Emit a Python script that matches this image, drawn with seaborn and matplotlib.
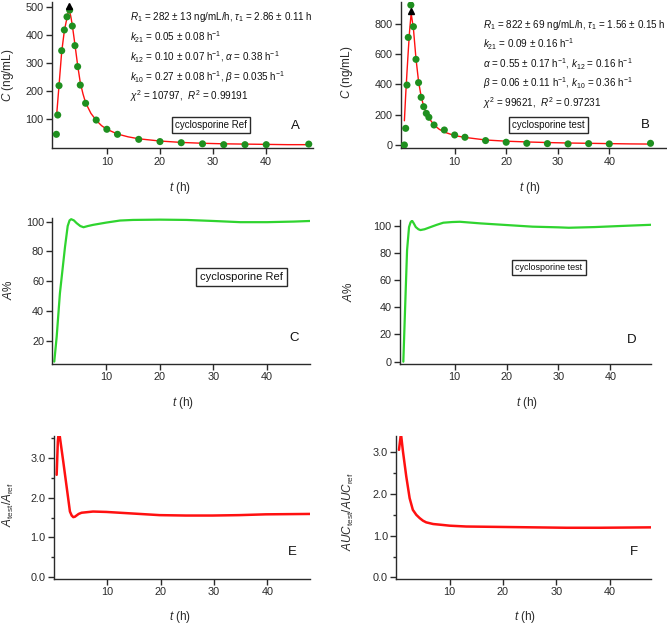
import numpy as np
import pandas as pd
import matplotlib
matplotlib.use("Agg")
import matplotlib.pyplot as plt
from matplotlib.ticker import MultipleLocator, FormatStrFormatter
import seaborn as sns

# --- data ---
t_ref_obs = [0.5, 0.75, 1, 1.5, 2, 2.5, 3, 3.5, 4, 4.5, 5, 6, 8, 10, 12, 16, 20, 24, 28, 32, 36, 40, 48]
c_ref_obs = [45, 114, 219, 344, 418, 465, 489, 432, 362, 287, 221, 156, 96, 63, 45, 27, 19, 15, 11, 8, 8, 8, 10]
t_ref_fit = [0.55, 1.0, 1.5, 2.0, 2.5, 2.86, 3.2, 3.5, 4.0, 4.5, 5.0, 5.5, 6.0, 7.0, 8.0, 9.0,
             10, 12, 14, 16, 20, 24, 28, 32, 36, 40, 44, 48]
c_ref_fit = [114, 220, 340, 415, 462, 492, 468, 435, 365, 292, 230, 190, 158, 120, 95, 76,
             63, 46, 36, 29, 21, 16, 13, 11, 10, 9, 8, 8]
ref_peak = (2.86, 505)

t_test_obs = [0.25, 0.5, 0.75, 1, 1.5, 2, 2.5, 3, 3.5, 4, 4.5, 5, 6, 8, 10, 12, 16, 20, 24, 28, 32, 36, 40, 48]
c_test_obs = [0, 110, 396, 711, 925, 782, 566, 412, 315, 253, 209, 183, 132, 99, 66, 51, 29, 18, 11, 9, 7, 9, 7, 11]
t_test_fit = [0.25, 0.5, 0.75, 1.0, 1.25, 1.56, 2.0, 2.5, 3.0, 3.5, 4.0, 4.5, 5.0, 6.0, 7.0, 8.0,
              10, 12, 16, 20, 24, 28, 32, 36, 40, 44, 48]
c_test_fit = [160, 330, 480, 620, 750, 870, 770, 570, 420, 320, 255, 210, 178, 132, 104, 85,
              62, 50, 33, 25, 20, 16, 13, 11, 9, 7, 6]
test_peak = (1.56, 885)

t_aref = [0.35, 0.8, 1.4, 2.35, 2.85, 3.2, 3.5, 4.0, 4.5, 5.2, 5.8, 6.6, 7.6, 10, 12.6, 15, 20, 25, 30, 35, 40, 45, 48]
a_ref = [5.9, 22.7, 51.8, 83, 97, 100.8, 101.6, 100.8, 99, 97, 96.2, 97, 97.8, 99.3, 100.7, 101.1, 101.3,
         101.1, 100.4, 99.6, 99.6, 100, 100.4]

t_atest = [0.1, 0.43, 0.82, 1.2, 1.5, 1.78, 2.1, 2.5, 3.0, 3.4, 4.2, 5.2, 6.5, 7.8, 9.5, 11, 15, 20, 25, 30,
           32, 37, 42, 48]
a_test = [0, 38, 82, 99, 102.5, 103.7, 101.8, 99, 97.4, 96.8, 97.4, 98.8, 100.6, 102.2, 102.7, 102.9,
          101.7, 100.5, 99.3, 98.8, 98.5, 99, 99.8, 100.7]

t_ratio_a = [0.48, 0.7, 0.9, 1.15, 1.72, 2.35, 2.97, 3.3, 3.6, 3.9, 4.2, 4.6, 5.15, 7.3, 9.8, 14.8, 19.8,
             24.7, 29.7, 34.7, 39.7, 48]
ratio_a = [2.57, 3.4, 3.7, 3.45, 2.9, 2.27, 1.65, 1.55, 1.51, 1.52, 1.55, 1.59, 1.62, 1.65, 1.64, 1.6, 1.56,
           1.55, 1.55, 1.56, 1.58, 1.59]

t_ratio_auc = [0.5, 0.87, 1.25, 1.87, 2.5, 3.1, 3.75, 4.4, 5.0, 5.6, 6.9, 8.5, 10, 13.1, 19.4, 25.6, 31.9, 38.1, 48]
ratio_auc = [3.06, 3.45, 3.02, 2.42, 1.9, 1.62, 1.5, 1.42, 1.36, 1.32, 1.28, 1.26, 1.24, 1.22, 1.21, 1.2,
             1.19, 1.19, 1.2]

ref_params = [r"$R_1$ = 282 ± 13 ng/mL/h, $\tau_1$ = 2.86 ± 0.11 h",
              r"$k_{21}$ = 0.05 ± 0.08 h$^{-1}$",
              r"$k_{12}$ = 0.10 ± 0.07 h$^{-1}$, $\alpha$ = 0.38 h$^{-1}$",
              r"$k_{10}$ = 0.27 ± 0.08 h$^{-1}$, $\beta$ = 0.035 h$^{-1}$",
              r"$\chi^2$ = 10797,  $R^2$ = 0.99191"]
test_params = [r"$R_1$ = 822 ± 69 ng/mL/h, $\tau_1$ = 1.56 ± 0.15 h",
               r"$k_{21}$ = 0.09 ± 0.16 h$^{-1}$",
               r"$\alpha$ = 0.55 ± 0.17 h$^{-1}$, $k_{12}$ = 0.16 h$^{-1}$",
               r"$\beta$ = 0.06 ± 0.11 h$^{-1}$, $k_{10}$ = 0.36 h$^{-1}$",
               r"$\chi^2$ = 99621,  $R^2$ = 0.97231"]

sns.set_style("ticks")
plt.rcParams['font.family'] = ['Liberation Sans', 'DejaVu Sans']
plt.rcParams['mathtext.fontset'] = 'custom'
plt.rcParams['mathtext.rm'] = 'Liberation Sans'
plt.rcParams['mathtext.it'] = 'Liberation Sans:italic'
plt.rcParams['mathtext.bf'] = 'Liberation Sans:bold'

W, H = 667, 625
INK = '#2a2a2a'
GREEN_DOT = '#1f8f1f'
GREEN_LINE = '#2fd42f'
RED = '#ff1010'

fig = plt.figure(figsize=(W / 100, H / 100), dpi=100)


def px(x, y):
    return x / W, 1 - y / H


def make_ax(left, top, right, bottom):
    ax = fig.add_axes([left / W, 1 - bottom / H, (right - left) / W, (bottom - top) / H])
    for s in ['top', 'right']:
        ax.spines[s].set_visible(False)
    for s in ['left', 'bottom']:
        ax.spines[s].set_color(INK)
        ax.spines[s].set_linewidth(1.0)
    ax.tick_params(direction='out', length=4, width=1, colors=INK, labelsize=7.8, pad=2)
    ax.tick_params(which='minor', direction='out', length=2.5, width=1, colors=INK)
    ax.set_xticks([10, 20, 30, 40])
    return ax


def labels(ax, ylab, ylx, yly, xlx, xly):
    ax.set_xlabel(r"$t$ (h)", fontsize=8.5, color=INK)
    ax.set_ylabel(ylab, fontsize=8.5, color=INK)
    ax.xaxis.set_label_coords(*px(xlx, xly), transform=fig.transFigure)
    ax.yaxis.set_label_coords(*px(ylx, yly), transform=fig.transFigure)
    ax.xaxis.label.set_va('center')
    ax.yaxis.label.set_va('center')


def tag(text, x, y, size=9.5):
    fig.text(*px(x, y), text, fontsize=size, color='#111', ha='center', va='center')


def boxed(text, x, y, size=7):
    fig.text(*px(x, y), text, fontsize=size, color='#111', ha='center', va='center',
             bbox=dict(boxstyle='square,pad=0.35', fc='white', ec=INK, lw=1))


def params(lines, x, y0, step=19.8):
    for i, s in enumerate(lines):
        fig.text(*px(x, y0 + i * step), s, fontsize=7.1, color='#111', ha='left', va='center')


# ---- A: reference concentration ----
ax = make_ax(51.7, 2, 313, 148.3)
sns.lineplot(x=t_ref_fit, y=c_ref_fit, ax=ax, color=RED, lw=1, estimator=None)
sns.scatterplot(x=t_ref_obs, y=c_ref_obs, ax=ax, color=GREEN_DOT, s=26, edgecolor='none', zorder=3)
ax.plot(*ref_peak, marker='^', color='black', ms=5, clip_on=False, zorder=4)
ax.set_xlim(-0.38, 48.8)
ax.set_ylim(-5, 518)
ax.set_yticks([100, 200, 300, 400, 500])
labels(ax, r"$C$ (ng/mL)", 8, 75, 180, 188)
params(ref_params, 130, 17.3)
boxed("cyclosporine Ref", 211, 125, 7)
tag("A", 295, 126)

# ---- B: test concentration ----
ax = make_ax(401.3, 2, 667, 148.3)
sns.lineplot(x=t_test_fit, y=c_test_fit, ax=ax, color=RED, lw=1, estimator=None)
sns.scatterplot(x=t_test_obs, y=c_test_obs, ax=ax, color=GREEN_DOT, s=26, edgecolor='none', zorder=3)
ax.plot(*test_peak, marker='^', color='black', ms=5, clip_on=False, zorder=4)
ax.set_xlim(-0.35, 51.2)
ax.set_ylim(-22, 945)
ax.set_yticks([0, 200, 400, 600, 800])
labels(ax, r"$C$ (ng/mL)", 347, 72, 530, 188)
params(test_params, 483, 25, 19.5)
boxed("cyclosporine test", 548.5, 125, 7)
tag("B", 645, 125)

# ---- C: A% reference ----
ax = make_ax(52.4, 218.3, 310, 364)
sns.lineplot(x=t_aref, y=a_ref, ax=ax, color=GREEN_LINE, lw=1.6, estimator=None)
ax.set_xlim(0, 48)
ax.set_ylim(4.3, 102.2)
ax.set_yticks([20, 40, 60, 80, 100])
labels(ax, r"$A$%", 8, 290, 183, 403)
boxed("cyclosporine Ref", 241.5, 277, 8)
tag("C", 294, 338)

# ---- D: A% test ----
ax = make_ax(399.7, 220, 651.3, 364)
sns.lineplot(x=t_atest, y=a_test, ax=ax, color=GREEN_LINE, lw=1.6, estimator=None)
ax.set_xlim(-0.6, 47.9)
ax.set_ylim(-1.7, 104.2)
ax.set_yticks([0, 20, 40, 60, 80, 100])
labels(ax, r"$A$%", 348, 292, 527, 403)
boxed("cyclosporine test", 549, 267.5, 6.5)
tag("D", 632, 340)

# ---- E: A ratio ----
ax = make_ax(54.1, 435.7, 310, 579)
sns.lineplot(x=t_ratio_a, y=ratio_a, ax=ax, color=RED, lw=1.8, estimator=None)
ax.set_xlim(0, 48)
ax.set_ylim(-0.04, 3.55)
ax.yaxis.set_major_locator(MultipleLocator(1.0))
ax.yaxis.set_minor_locator(MultipleLocator(0.5))
ax.yaxis.set_major_formatter(FormatStrFormatter('%.1f'))
labels(ax, r"$A_{\mathrm{test}}/A_{\mathrm{ref}}$", 8, 505, 180, 617)
tag("E", 292, 552)

# ---- F: AUC ratio ----
ax = make_ax(396.3, 435.7, 651.3, 579)
sns.lineplot(x=t_ratio_auc, y=ratio_auc, ax=ax, color=RED, lw=1.8, estimator=None)
ax.set_xlim(0, 47.8)
ax.set_ylim(-0.04, 3.4)
ax.yaxis.set_major_locator(MultipleLocator(1.0))
ax.yaxis.set_minor_locator(MultipleLocator(0.5))
ax.yaxis.set_major_formatter(FormatStrFormatter('%.1f'))
labels(ax, r"$AUC_{\mathrm{test}}/AUC_{\mathrm{ref}}$", 348, 512, 525, 617)
tag("F", 634, 552)

fig.savefig("out.png", dpi=100)
